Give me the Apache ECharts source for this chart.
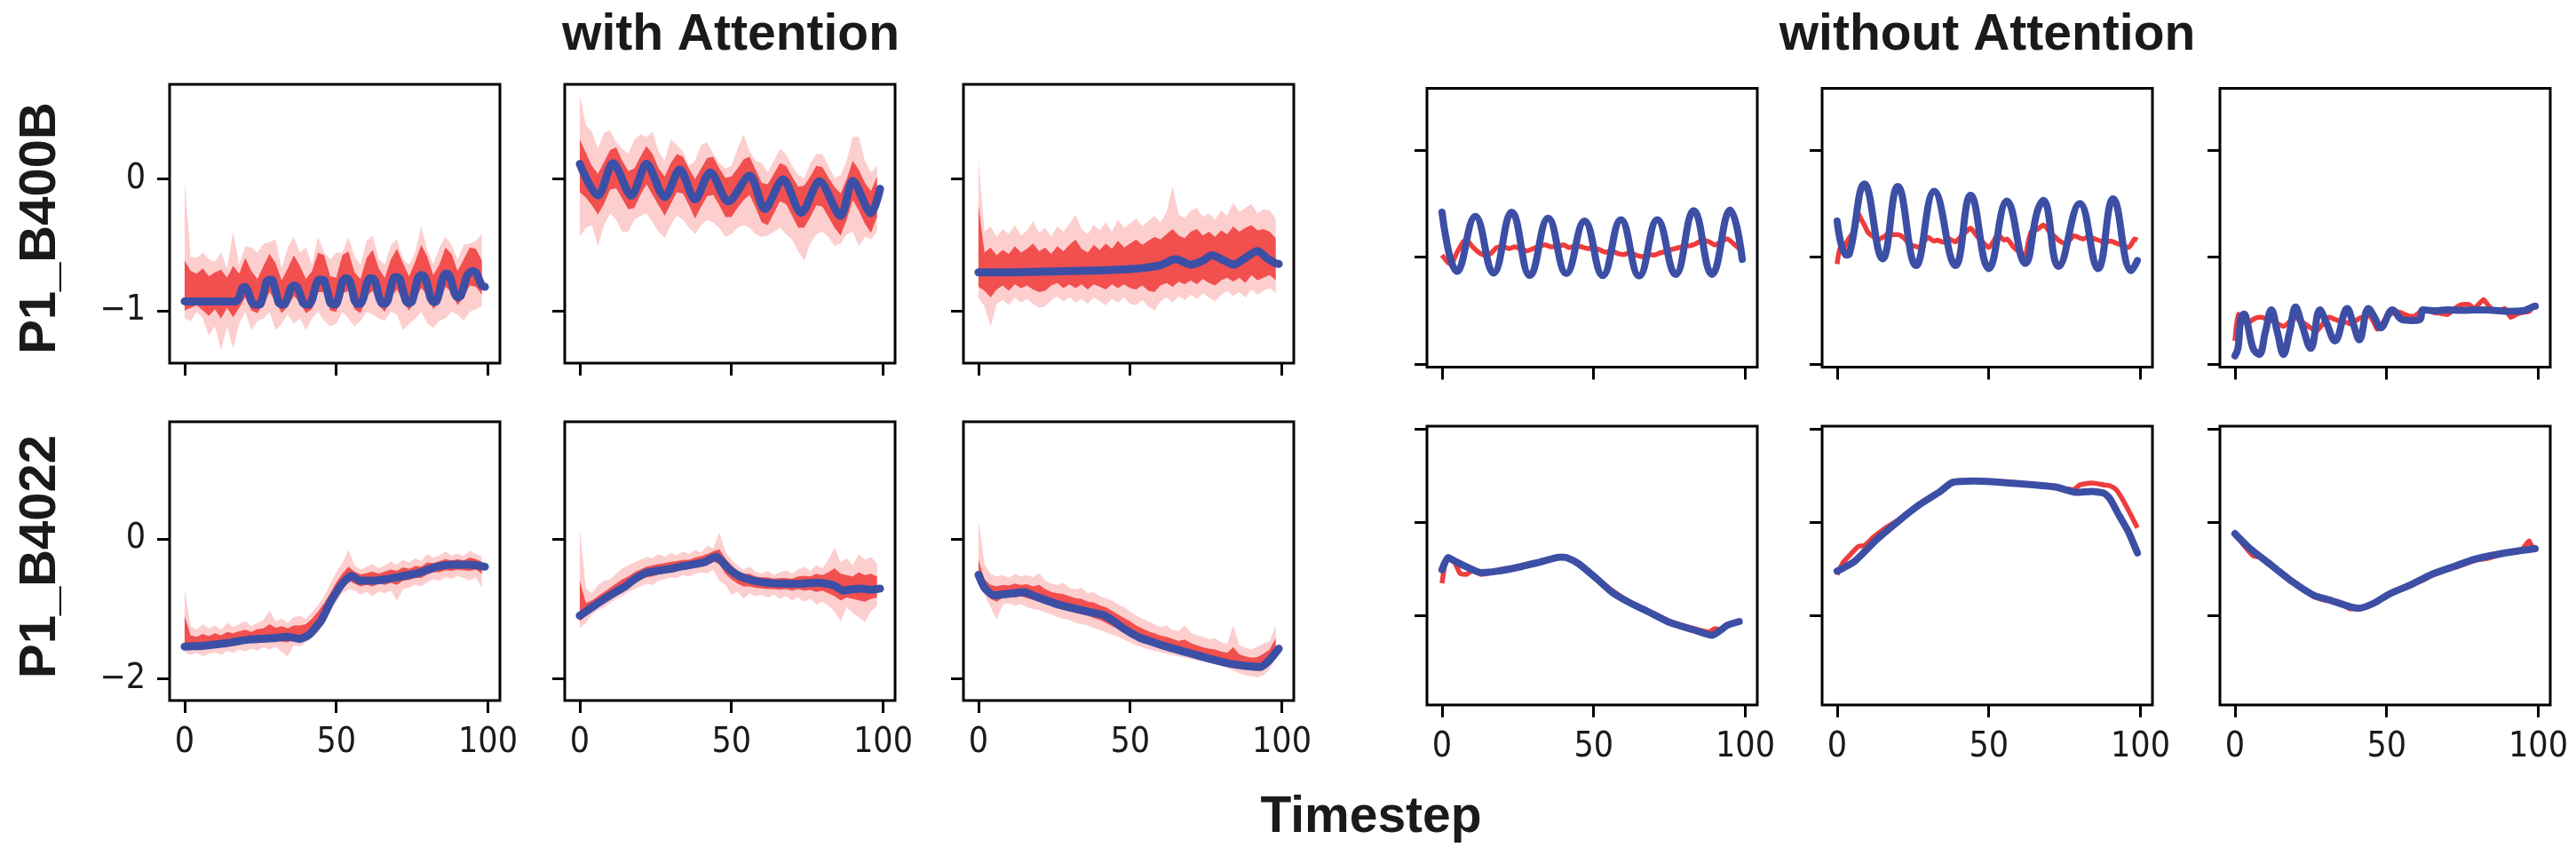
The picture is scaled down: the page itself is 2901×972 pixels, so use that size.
<!DOCTYPE html>
<html><head><meta charset="utf-8">
<script src="https://cdn.jsdelivr.net/npm/echarts@6/dist/echarts.min.js"></script>
<style>html,body{margin:0;padding:0;background:#fff}#c{width:2901px;height:972px}</style>
</head><body><div id="c"></div>
<script>
// ---------- axis ticks ----------
const X_TICKS = [0, 50, 100];
const Y_TICKS_R1_LEFT = [-1, 0];
const Y_TICKS_R2_LEFT = [-2, 0];
const Y_TICKS_RIGHT = [-1, 0, 1];
const TITLES = ['with Attention', 'without Attention'];
const ROW_LABELS = ['P1_B400B', 'P1_B4022'];
const X_LABEL = 'Timestep';

// ---------- row 1, with attention ----------
const r1c1Blue = [-0.93,-0.93,-0.93,-0.93,-0.93,-0.93,-0.93,-0.93,-0.93,-0.93,
 -0.93,-0.93,-0.93,-0.93,-0.93,-0.93,-0.93,-0.93,-0.90,-0.83,
 -0.82,-0.86,-0.93,-0.955,-0.955,-0.95,-0.88,-0.78,-0.765,-0.77,
 -0.85,-0.94,-0.955,-0.95,-0.90,-0.83,-0.81,-0.82,-0.87,-0.94,
 -0.955,-0.955,-0.92,-0.83,-0.77,-0.765,-0.77,-0.85,-0.94,-0.955,
 -0.95,-0.88,-0.78,-0.755,-0.76,-0.82,-0.92,-0.95,-0.95,-0.90,
 -0.80,-0.755,-0.755,-0.79,-0.89,-0.945,-0.95,-0.92,-0.82,-0.75,
 -0.745,-0.76,-0.85,-0.93,-0.945,-0.93,-0.84,-0.75,-0.73,-0.74,
 -0.80,-0.90,-0.935,-0.93,-0.86,-0.76,-0.72,-0.725,-0.78,-0.87,
 -0.90,-0.89,-0.82,-0.74,-0.71,-0.70,-0.71,-0.76,-0.81,-0.82];
const r1c1OuterHi = [-0.02,-0.59,-0.60,-0.56,-0.61,-0.63,-0.56,-0.68,-0.40,-0.65,
 -0.51,-0.52,-0.56,-0.49,-0.48,-0.46,-0.68,-0.52,-0.44,-0.56,
 -0.52,-0.65,-0.44,-0.56,-0.61,-0.56,-0.56,-0.44,-0.59,-0.65,
 -0.47,-0.43,-0.61,-0.65,-0.50,-0.46,-0.61,-0.65,-0.56,-0.36,
 -0.54,-0.65,-0.52,-0.44,-0.50,-0.61,-0.50,-0.49,-0.47,-0.42];
const r1c1CoreHi = [-0.62,-0.70,-0.72,-0.68,-0.74,-0.71,-0.69,-0.75,-0.66,-0.72,
 -0.60,-0.70,-0.76,-0.66,-0.57,-0.64,-0.77,-0.68,-0.58,-0.66,
 -0.76,-0.70,-0.56,-0.58,-0.74,-0.75,-0.58,-0.55,-0.71,-0.76,
 -0.60,-0.54,-0.68,-0.75,-0.61,-0.53,-0.64,-0.74,-0.63,-0.50,
 -0.59,-0.73,-0.65,-0.52,-0.57,-0.70,-0.61,-0.52,-0.53,-0.62];
const r1c1CoreLo = [-1.00,-0.98,-0.96,-1.00,-1.04,-0.99,-1.06,-0.98,-1.05,-0.98,
 -0.90,-1.00,-1.02,-0.95,-0.86,-0.93,-1.02,-0.97,-0.89,-0.94,
 -1.02,-0.99,-0.86,-0.86,-1.00,-1.01,-0.87,-0.85,-0.99,-1.02,
 -0.89,-0.85,-0.96,-1.01,-0.90,-0.84,-0.93,-1.00,-0.92,-0.83,
 -0.88,-0.99,-0.93,-0.82,-0.86,-0.96,-0.90,-0.81,-0.82,-0.88];
const r1c1OuterLo = [-1.06,-1.08,-1.01,-1.06,-1.19,-1.12,-1.30,-1.12,-1.29,-1.10,
 -1.01,-1.15,-1.08,-1.06,-1.01,-1.15,-1.10,-1.03,-1.10,-1.06,
 -1.15,-1.06,-1.01,-1.08,-1.12,-1.10,-1.01,-1.06,-1.12,-1.08,
 -1.01,-1.03,-1.06,-1.08,-1.01,-1.03,-1.15,-1.10,-1.06,-1.01,
 -1.10,-1.13,-1.08,-1.06,-1.01,-1.03,-1.08,-1.01,-0.99,-0.97];

const r1c2Blue = [[0,0.115],[6,-0.126],[11,0.12],[17,-0.126],[22,0.115],[28,-0.137],[33,0.072],[38,-0.155],[43,0.05],[49,-0.17],[56,0.027],[61,-0.227],[67,-0.002],[73,-0.257],[79,-0.018],[86,-0.28],[90,-0.014],[96,-0.26],[99,-0.074]];
const r1c2OuterHi = [0.64,0.41,0.36,0.23,0.35,0.37,0.28,0.23,0.19,0.30,
 0.34,0.32,0.36,0.21,0.14,0.30,0.26,0.21,0.10,0.14,
 0.26,0.28,0.19,0.12,0.08,0.10,0.23,0.34,0.21,0.14,
 0.12,0.05,0.14,0.23,0.19,0.10,0.03,0.01,0.12,0.19,
 0.19,0.10,0.01,0.03,0.14,0.32,0.32,0.14,0.05,0.10];
const r1c2CoreHi = [0.30,0.20,0.10,0.04,0.13,0.22,0.24,0.14,0.06,0.08,
 0.17,0.25,0.19,0.08,0.02,0.12,0.19,0.17,0.08,0.00,
 0.08,0.16,0.17,0.08,0.01,0.02,0.08,0.15,0.17,0.07,
 -0.03,-0.04,0.04,0.12,0.10,0.02,-0.06,-0.05,0.02,0.10,
 0.09,0.01,-0.06,-0.11,0.00,0.14,0.07,-0.03,-0.09,0.02];
const r1c2CoreLo = [-0.10,-0.14,-0.20,-0.27,-0.19,-0.08,-0.07,-0.15,-0.23,-0.22,
 -0.12,-0.04,-0.12,-0.20,-0.28,-0.19,-0.10,-0.11,-0.20,-0.30,
 -0.21,-0.13,-0.12,-0.20,-0.29,-0.29,-0.22,-0.16,-0.12,-0.22,
 -0.33,-0.35,-0.26,-0.17,-0.19,-0.28,-0.37,-0.37,-0.29,-0.20,
 -0.21,-0.29,-0.37,-0.43,-0.31,-0.16,-0.24,-0.34,-0.41,-0.29];
const r1c2OuterLo = [-0.44,-0.37,-0.35,-0.51,-0.35,-0.26,-0.31,-0.40,-0.40,-0.31,
 -0.28,-0.26,-0.33,-0.40,-0.45,-0.35,-0.28,-0.31,-0.37,-0.42,
 -0.35,-0.31,-0.33,-0.37,-0.44,-0.42,-0.37,-0.35,-0.37,-0.42,
 -0.44,-0.43,-0.40,-0.37,-0.42,-0.46,-0.55,-0.62,-0.49,-0.42,
 -0.40,-0.44,-0.51,-0.49,-0.42,-0.40,-0.51,-0.44,-0.46,-0.40];

const r1c3Blue = [[0,-0.71],[10,-0.71],[20,-0.705],[30,-0.70],[40,-0.695],[50,-0.685],[55,-0.675],[60,-0.655],[65,-0.61],[70,-0.65],[74,-0.62],[77,-0.58],[81,-0.62],[84,-0.65],[88,-0.60],[92,-0.547],[95,-0.60],[98,-0.64],[99,-0.645]];
const r1c3OuterHi = [0.14,-0.40,-0.36,-0.44,-0.38,-0.42,-0.35,-0.43,-0.39,-0.32,
 -0.41,-0.37,-0.44,-0.36,-0.40,-0.34,-0.27,-0.38,-0.42,-0.35,
 -0.39,-0.33,-0.40,-0.31,-0.37,-0.34,-0.30,-0.36,-0.32,-0.28,
 -0.33,-0.25,-0.06,-0.27,-0.30,-0.24,-0.22,-0.29,-0.26,-0.31,
 -0.24,-0.28,-0.18,-0.25,-0.22,-0.19,-0.26,-0.23,-0.24,-0.30];
const r1c3CoreHi = [-0.20,-0.56,-0.52,-0.58,-0.54,-0.57,-0.51,-0.56,-0.53,-0.49,
 -0.55,-0.52,-0.57,-0.51,-0.55,-0.50,-0.46,-0.53,-0.56,-0.50,
 -0.54,-0.49,-0.53,-0.47,-0.52,-0.49,-0.46,-0.50,-0.47,-0.44,
 -0.46,-0.42,-0.38,-0.43,-0.45,-0.40,-0.38,-0.43,-0.40,-0.44,
 -0.39,-0.42,-0.36,-0.40,-0.37,-0.35,-0.39,-0.38,-0.40,-0.45];
const r1c3CoreLo = [-0.82,-0.85,-0.90,-0.84,-0.81,-0.85,-0.80,-0.83,-0.81,-0.84,
 -0.86,-0.85,-0.81,-0.79,-0.83,-0.80,-0.83,-0.80,-0.84,-0.80,
 -0.82,-0.84,-0.80,-0.83,-0.80,-0.83,-0.84,-0.81,-0.85,-0.86,
 -0.81,-0.79,-0.82,-0.78,-0.80,-0.77,-0.80,-0.76,-0.79,-0.81,
 -0.77,-0.75,-0.78,-0.75,-0.79,-0.73,-0.77,-0.75,-0.73,-0.77];
const r1c3OuterLo = [-0.90,-0.97,-1.12,-0.95,-0.92,-0.96,-0.90,-0.94,-0.91,-0.95,
 -0.98,-0.97,-0.92,-0.89,-0.93,-0.90,-0.94,-0.91,-0.95,-0.90,
 -0.93,-0.96,-0.91,-0.94,-0.90,-0.95,-0.96,-0.92,-0.97,-1.00,
 -0.93,-0.90,-0.94,-0.89,-0.92,-0.88,-0.91,-0.87,-0.90,-0.93,
 -0.88,-0.85,-0.89,-0.86,-0.90,-0.84,-0.88,-0.85,-0.83,-0.87];

// ---------- row 1, without attention ----------
const r1c4Blue = [[0,0.42],[5,-0.133],[11,0.38],[17,-0.147],[23,0.42],[29,-0.17],[35,0.365],[41,-0.152],[47,0.337],[53,-0.17],[59,0.35],[65,-0.174],[71,0.35],[77,-0.16],[83,0.434],[89,-0.16],[95,0.44],[99,-0.02]];
const r1c4Red = [[0,0.02],[2,-0.05],[3,-0.064],[5,0.047],[7,0.144],[8,0.163],[10,0.10],[12,0.047],[14,0.02],[16,0.033],[18,0.089],[20,0.10],[22,0.08],[24,0.097],[26,0.075],[28,0.06],[30,0.08],[32,0.10],[34,0.116],[36,0.097],[38,0.10],[40,0.116],[42,0.089],[44,0.108],[46,0.097],[48,0.08],[50,0.089],[52,0.069],[54,0.047],[56,0.061],[58,0.033],[60,0.025],[62,0.041],[64,0.02],[66,0.006],[68,0.025],[70,0.02],[72,0.041],[74,0.053],[76,0.075],[78,0.089],[80,0.102],[82,0.108],[84,0.13],[86,0.163],[88,0.144],[90,0.116],[92,0.144],[94,0.172],[96,0.13],[98,0.08],[99,0.047]];
const r1c5Blue = [[0,0.337],[3,0.02],[4,0.03],[9,0.683],[15,-0.014],[20,0.66],[26,-0.077],[32,0.614],[39,-0.077],[44,0.578],[50,-0.105],[56,0.523],[62,-0.058],[66,0.43],[68,0.53],[73,-0.086],[80,0.50],[86,-0.105],[91,0.545],[97,-0.124],[99,-0.03]];
const r1c5Red = [[0,-0.064],[1,0.10],[2,0.06],[3,0.13],[4,0.18],[5,0.22],[6,0.27],[7,0.41],[8,0.35],[9,0.30],[10,0.24],[11,0.21],[12,0.19],[13,0.16],[14,0.17],[16,0.20],[17,0.23],[18,0.21],[20,0.21],[22,0.18],[24,0.116],[26,0.10],[27,0.09],[28,0.12],[30,0.185],[32,0.15],[33,0.16],[35,0.14],[37,0.17],[39,0.144],[41,0.20],[43,0.25],[44,0.27],[46,0.20],[48,0.14],[50,0.09],[52,0.17],[53,0.21],[55,0.16],[56,0.17],[58,0.10],[60,0.05],[62,0.02],[63,0.14],[64,0.24],[66,0.26],[68,0.30],[70,0.24],[71,0.21],[73,0.16],[75,0.13],[77,0.17],[78,0.20],[80,0.18],[81,0.17],[83,0.19],[85,0.17],[87,0.15],[88,0.13],[90,0.15],[91,0.144],[93,0.12],[94,0.116],[96,0.09],[97,0.12],[98,0.17],[99,0.16]];
const r1c6Blue = [[0,-0.92],[1,-0.85],[2,-0.56],[3,-0.53],[4,-0.60],[6,-0.85],[8,-0.907],[10,-0.70],[12,-0.49],[14,-0.70],[16,-0.907],[18,-0.70],[20,-0.465],[22,-0.62],[25,-0.85],[28,-0.49],[30,-0.60],[33,-0.78],[37,-0.478],[39,-0.62],[41,-0.77],[44,-0.478],[46,-0.56],[48,-0.658],[52,-0.49],[55,-0.58],[58,-0.59],[61,-0.58],[62,-0.49],[66,-0.50],[70,-0.49],[75,-0.495],[80,-0.49],[85,-0.495],[90,-0.505],[95,-0.50],[98,-0.465],[99,-0.457]];
const r1c6Red = [[0,-0.78],[1,-0.53],[2,-0.57],[4,-0.62],[6,-0.58],[8,-0.56],[10,-0.57],[12,-0.59],[14,-0.62],[16,-0.645],[18,-0.60],[19,-0.56],[21,-0.58],[23,-0.62],[25,-0.66],[27,-0.686],[29,-0.62],[31,-0.56],[33,-0.58],[35,-0.60],[37,-0.61],[38,-0.62],[40,-0.59],[41,-0.57],[43,-0.55],[44,-0.534],[46,-0.62],[47,-0.672],[49,-0.60],[50,-0.56],[52,-0.52],[53,-0.506],[55,-0.52],[56,-0.534],[58,-0.55],[59,-0.55],[61,-0.51],[62,-0.49],[64,-0.50],[66,-0.52],[67,-0.52],[69,-0.53],[70,-0.534],[72,-0.49],[74,-0.45],[76,-0.44],[77,-0.44],[79,-0.48],[80,-0.45],[82,-0.396],[83,-0.43],[84,-0.464],[86,-0.506],[88,-0.49],[89,-0.478],[90,-0.52],[91,-0.56],[93,-0.53],[94,-0.52],[96,-0.51],[97,-0.506],[98,-0.47],[99,-0.44]];

// ---------- row 2, with attention ----------
const r2c1Blue = [[0,-1.54],[3,-1.535],[6,-1.53],[10,-1.51],[14,-1.49],[18,-1.46],[21,-1.44],[25,-1.43],[29,-1.42],[34,-1.40],[38,-1.43],[41,-1.37],[45,-1.17],[48,-0.91],[52,-0.64],[55,-0.53],[58,-0.60],[62,-0.60],[66,-0.58],[70,-0.55],[77,-0.49],[83,-0.40],[88,-0.37],[94,-0.37],[99,-0.40]];
const r2c1OuterHi = [-0.72,-1.25,-1.30,-1.22,-1.28,-1.24,-1.30,-1.20,-1.26,-1.22,
 -1.18,-1.25,-1.20,-1.16,-1.02,-1.18,-1.14,-1.20,-1.12,-1.10,
 -1.15,-1.05,-0.95,-0.82,-0.65,-0.48,-0.35,-0.16,-0.38,-0.44,
 -0.40,-0.36,-0.42,-0.38,-0.33,-0.37,-0.30,-0.34,-0.28,-0.32,
 -0.22,-0.27,-0.24,-0.18,-0.24,-0.21,-0.25,-0.17,-0.22,-0.26];
const r2c1CoreHi = [-1.10,-1.38,-1.40,-1.36,-1.39,-1.35,-1.38,-1.33,-1.35,-1.32,
 -1.30,-1.33,-1.29,-1.28,-1.22,-1.27,-1.25,-1.28,-1.24,-1.24,
 -1.22,-1.14,-1.04,-0.92,-0.78,-0.62,-0.50,-0.40,-0.47,-0.51,
 -0.49,-0.47,-0.50,-0.47,-0.44,-0.46,-0.41,-0.43,-0.39,-0.40,
 -0.34,-0.35,-0.32,-0.29,-0.31,-0.29,-0.31,-0.27,-0.29,-0.33];
const r2c1CoreLo = [-1.56,-1.57,-1.56,-1.58,-1.55,-1.54,-1.55,-1.52,-1.53,-1.50,
 -1.50,-1.48,-1.49,-1.46,-1.47,-1.45,-1.47,-1.48,-1.44,-1.45,
 -1.40,-1.33,-1.22,-1.08,-0.94,-0.80,-0.68,-0.60,-0.64,-0.68,
 -0.66,-0.68,-0.64,-0.66,-0.63,-0.66,-0.60,-0.59,-0.56,-0.56,
 -0.51,-0.48,-0.48,-0.45,-0.46,-0.44,-0.45,-0.46,-0.44,-0.50];
const r2c1OuterLo = [-1.62,-1.66,-1.63,-1.68,-1.64,-1.62,-1.66,-1.60,-1.63,-1.58,
 -1.61,-1.57,-1.60,-1.55,-1.58,-1.54,-1.62,-1.68,-1.52,-1.54,
 -1.48,-1.42,-1.34,-1.20,-1.05,-0.90,-0.78,-0.72,-0.74,-0.80,
 -0.76,-0.82,-0.75,-0.78,-0.74,-0.89,-0.72,-0.70,-0.66,-0.68,
 -0.62,-0.58,-0.60,-0.55,-0.57,-0.53,-0.56,-0.60,-0.55,-0.70];

const r2c2Blue = [[0,-1.10],[4,-0.98],[7,-0.89],[11,-0.78],[15,-0.68],[18,-0.58],[22,-0.485],[26,-0.455],[30,-0.43],[33,-0.40],[37,-0.37],[41,-0.335],[45,-0.257],[48,-0.38],[50,-0.46],[53,-0.54],[56,-0.584],[60,-0.62],[63,-0.635],[67,-0.64],[70,-0.644],[74,-0.64],[78,-0.627],[81,-0.64],[84,-0.67],[87,-0.742],[90,-0.72],[93,-0.712],[96,-0.73],[99,-0.712]];
const r2c2OuterHi = [0.14,-0.70,-0.78,-0.66,-0.60,-0.58,-0.50,-0.42,-0.38,-0.34,
 -0.30,-0.26,-0.28,-0.22,-0.26,-0.20,-0.24,-0.18,-0.22,-0.16,
 -0.20,-0.10,-0.14,0.09,-0.18,-0.30,-0.38,-0.44,-0.40,-0.47,
 -0.50,-0.46,-0.52,-0.48,-0.45,-0.50,-0.44,-0.40,-0.46,-0.38,
 -0.42,-0.30,-0.12,-0.34,-0.28,-0.38,-0.22,-0.30,-0.26,-0.36];
const r2c2CoreHi = [-0.60,-0.92,-0.88,-0.82,-0.76,-0.70,-0.64,-0.58,-0.54,-0.48,
 -0.44,-0.40,-0.38,-0.36,-0.35,-0.33,-0.32,-0.30,-0.30,-0.27,
 -0.25,-0.22,-0.18,-0.15,-0.28,-0.38,-0.46,-0.50,-0.50,-0.54,
 -0.55,-0.55,-0.57,-0.56,-0.56,-0.57,-0.54,-0.53,-0.54,-0.50,
 -0.52,-0.48,-0.42,-0.50,-0.52,-0.54,-0.48,-0.52,-0.50,-0.54];
const r2c2CoreLo = [-1.18,-1.10,-1.02,-0.96,-0.90,-0.84,-0.78,-0.72,-0.67,-0.62,
 -0.58,-0.55,-0.54,-0.51,-0.49,-0.47,-0.46,-0.44,-0.43,-0.41,
 -0.39,-0.37,-0.33,-0.36,-0.50,-0.58,-0.64,-0.68,-0.68,-0.70,
 -0.71,-0.72,-0.72,-0.73,-0.72,-0.74,-0.72,-0.74,-0.73,-0.76,
 -0.74,-0.78,-0.82,-0.88,-0.84,-0.86,-0.88,-0.90,-0.86,-0.84];
const r2c2OuterLo = [-1.28,-1.20,-1.08,-1.02,-0.98,-0.92,-0.86,-0.82,-0.76,-0.72,
 -0.68,-0.64,-0.66,-0.60,-0.58,-0.55,-0.56,-0.52,-0.54,-0.50,
 -0.48,-0.50,-0.44,-0.60,-0.66,-0.80,-0.76,-0.86,-0.78,-0.82,
 -0.80,-0.84,-0.80,-0.86,-0.82,-0.88,-0.84,-0.90,-0.86,-0.94,
 -0.90,-0.96,-1.04,-1.18,-0.98,-1.06,-1.12,-1.19,-1.04,-0.96];

const r2c3Blue = [[0,-0.515],[2,-0.70],[5,-0.807],[10,-0.785],[15,-0.764],[19,-0.828],[23,-0.89],[26,-0.936],[30,-0.98],[34,-1.02],[38,-1.06],[41,-1.086],[44,-1.16],[47,-1.257],[50,-1.34],[53,-1.41],[57,-1.47],[60,-1.515],[64,-1.565],[68,-1.614],[71,-1.65],[75,-1.70],[79,-1.745],[83,-1.785],[88,-1.815],[93,-1.83],[96,-1.73],[99,-1.57]];
const r2c3OuterHi = [0.27,-0.36,-0.50,-0.54,-0.52,-0.56,-0.50,-0.54,-0.52,-0.55,
 -0.49,-0.60,-0.64,-0.66,-0.63,-0.70,-0.72,-0.70,-0.78,-0.76,
 -0.82,-0.85,-0.88,-0.94,-0.98,-1.04,-1.10,-1.14,-1.18,-1.22,
 -1.26,-1.24,-1.30,-1.32,-1.24,-1.34,-1.38,-1.40,-1.44,-1.42,
 -1.48,-1.50,-1.24,-1.52,-1.56,-1.58,-1.54,-1.50,-1.46,-1.24];
const r2c3CoreHi = [-0.30,-0.58,-0.66,-0.68,-0.66,-0.67,-0.64,-0.66,-0.65,-0.68,
 -0.66,-0.72,-0.76,-0.78,-0.79,-0.82,-0.85,-0.86,-0.90,-0.91,
 -0.95,-0.98,-1.03,-1.08,-1.13,-1.18,-1.24,-1.28,-1.32,-1.35,
 -1.38,-1.40,-1.43,-1.46,-1.44,-1.49,-1.52,-1.55,-1.57,-1.58,
 -1.61,-1.63,-1.55,-1.65,-1.68,-1.70,-1.69,-1.64,-1.58,-1.42];
const r2c3CoreLo = [-0.52,-0.76,-0.86,-0.90,-0.84,-0.83,-0.84,-0.82,-0.85,-0.87,
 -0.90,-0.93,-0.96,-0.99,-1.01,-1.03,-1.06,-1.08,-1.10,-1.13,
 -1.16,-1.20,-1.25,-1.29,-1.33,-1.38,-1.42,-1.46,-1.49,-1.52,
 -1.55,-1.57,-1.59,-1.61,-1.63,-1.65,-1.67,-1.69,-1.71,-1.73,
 -1.75,-1.77,-1.79,-1.81,-1.83,-1.85,-1.86,-1.83,-1.76,-1.60];
const r2c3OuterLo = [-0.30,-0.80,-0.98,-1.15,-0.94,-0.92,-0.96,-0.93,-0.98,-1.00,
 -1.02,-1.05,-1.08,-1.12,-1.14,-1.16,-1.20,-1.22,-1.24,-1.28,
 -1.30,-1.34,-1.37,-1.40,-1.44,-1.48,-1.52,-1.55,-1.58,-1.60,
 -1.62,-1.64,-1.66,-1.68,-1.70,-1.72,-1.74,-1.75,-1.77,-1.79,
 -1.80,-1.84,-1.88,-1.92,-1.95,-1.96,-1.98,-1.95,-1.86,-1.70];

// ---------- row 2, without attention ----------
const r2c4Blue = [[0,-0.51],[2,-0.38],[4,-0.413],[8,-0.477],[13,-0.54],[18,-0.526],[25,-0.484],[32,-0.43],[39,-0.374],[41,-0.38],[45,-0.445],[51,-0.606],[56,-0.75],[62,-0.865],[68,-0.96],[75,-1.074],[83,-1.155],[89,-1.213],[92,-1.155],[94,-1.106],[98,-1.065]];
const r2c4Red = [[0,-0.655],[1,-0.45],[2,-0.37],[4,-0.42],[6,-0.55],[8,-0.56],[10,-0.52],[13,-0.56],[18,-0.53],[22,-0.50],[25,-0.48],[30,-0.45],[35,-0.41],[39,-0.37],[42,-0.39],[45,-0.45],[51,-0.60],[56,-0.73],[62,-0.86],[68,-0.95],[75,-1.06],[83,-1.14],[88,-1.18],[90,-1.14],[92,-1.16],[94,-1.10],[98,-1.06]];
const r2c5Blue = [[0,-0.526],[6,-0.413],[13,-0.187],[20,0.006],[27,0.184],[34,0.33],[38,0.426],[45,0.442],[52,0.432],[61,0.41],[72,0.377],[79,0.32],[84,0.33],[88,0.31],[90,0.25],[93,0.07],[96,-0.10],[99,-0.33]];
const r2c5Red = [[0,-0.56],[2,-0.43],[4,-0.36],[7,-0.26],[9,-0.25],[12,-0.16],[16,-0.06],[20,0.02],[27,0.18],[34,0.34],[38,0.43],[45,0.45],[52,0.44],[58,0.43],[61,0.40],[66,0.40],[72,0.37],[78,0.35],[80,0.40],[84,0.42],[88,0.40],[90,0.39],[92,0.35],[94,0.25],[96,0.13],[99,-0.06]];
const r2c6Blue = [[0,-0.123],[5,-0.284],[12,-0.461],[19,-0.639],[26,-0.784],[31,-0.832],[37,-0.897],[41,-0.923],[46,-0.865],[51,-0.768],[58,-0.671],[65,-0.558],[72,-0.477],[79,-0.397],[86,-0.348],[93,-0.31],[99,-0.284]];
const r2c6Red = [[0,-0.12],[3,-0.25],[6,-0.36],[9,-0.38],[12,-0.47],[16,-0.55],[19,-0.64],[23,-0.72],[26,-0.80],[30,-0.84],[35,-0.87],[38,-0.93],[41,-0.93],[44,-0.89],[47,-0.85],[51,-0.77],[55,-0.72],[58,-0.67],[62,-0.62],[65,-0.57],[70,-0.51],[74,-0.47],[79,-0.41],[83,-0.39],[86,-0.36],[90,-0.33],[93,-0.32],[95,-0.28],[97,-0.20],[98,-0.27],[99,-0.26]];

// ---------- layout / style ----------
const X_MIN = -4.95, X_MAX = 103.95;
const PANEL_LEFT = [191, 636, 1085, 1607, 2052, 2500];
const PANEL_TOP = [[95, 95, 95, 99.5, 99.5, 99.5], [475, 475, 475, 480, 480, 480]];
const PANEL_W = 372, PANEL_H = 314;
const Y_RANGE = [[[-1.40, 0.72], [-1.025, 1.575]], [[-2.31, 1.67], [-1.96, 1.03]]];
const BLUE = '#3c4fa5', RED = '#ee2b2b';
const OUTER_FILL = 'rgba(242,50,50,0.24)', CORE_FILL = 'rgba(238,30,30,0.72)';
const TICK_FONT = '"DejaVu Sans Condensed", "DejaVu Sans", sans-serif';
const TITLE_FONT = '"Liberation Sans", Arial, sans-serif';

const tEven = Array.from({length: 50}, (_, i) => i * 2);
const withPanels = [
  {blue: r1c1Blue.map((v, i) => [i, v]), bands: [r1c1OuterLo, r1c1OuterHi, r1c1CoreLo, r1c1CoreHi], smooth: 0.2},
  {blue: r1c2Blue, bands: [r1c2OuterLo, r1c2OuterHi, r1c2CoreLo, r1c2CoreHi], smooth: 0.3},
  {blue: r1c3Blue, bands: [r1c3OuterLo, r1c3OuterHi, r1c3CoreLo, r1c3CoreHi], smooth: 0.3},
  {blue: r2c1Blue, bands: [r2c1OuterLo, r2c1OuterHi, r2c1CoreLo, r2c1CoreHi], smooth: 0.2},
  {blue: r2c2Blue, bands: [r2c2OuterLo, r2c2OuterHi, r2c2CoreLo, r2c2CoreHi], smooth: 0.2},
  {blue: r2c3Blue, bands: [r2c3OuterLo, r2c3OuterHi, r2c3CoreLo, r2c3CoreHi], smooth: 0.2}
];
const withoutPanels = [
  {blue: r1c4Blue, red: r1c4Red, smooth: 0.45},
  {blue: r1c5Blue, red: r1c5Red, smooth: 0.45},
  {blue: r1c6Blue, red: r1c6Red, smooth: 0.4},
  {blue: r2c4Blue, red: r2c4Red, smooth: 0.2},
  {blue: r2c5Blue, red: r2c5Red, smooth: 0.2},
  {blue: r2c6Blue, red: r2c6Red, smooth: 0.2}
];

const grids = [], xAxes = [], yAxes = [], series = [];
const minus = v => (v < 0 ? '\u2212' + Math.abs(v) : String(v));

// band polygon (lo..hi) placed through the axis scales with api.coord
function bandSeries(idx, lo, hi, fill, z) {
  return {
    type: 'custom', xAxisIndex: idx, yAxisIndex: idx, z, silent: true,
    data: tEven.map((t, i) => [t, lo[i], hi[i]]),
    encode: {x: 0, y: [1, 2]},
    renderItem: (params, api) => {
      if (params.dataIndex !== 0) return null;
      const top = tEven.map((t, i) => api.coord([t, hi[i]]));
      const bottom = tEven.map((t, i) => api.coord([t, lo[i]])).reverse();
      return {type: 'polygon', shape: {points: top.concat(bottom)}, style: {fill, stroke: null}};
    }
  };
}

for (let r = 0; r < 2; r++) {
  for (let c = 0; c < 6; c++) {
    const idx = r * 6 + c;
    const right = c >= 3;
    grids.push({left: PANEL_LEFT[c], top: PANEL_TOP[r][c], width: PANEL_W, height: PANEL_H,
      show: true, borderColor: '#000', borderWidth: 3, backgroundColor: 'rgba(0,0,0,0)',
      outerBoundsMode: 'none', containLabel: false});
    xAxes.push({gridIndex: idx, type: 'value', min: X_MIN, max: X_MAX, position: 'bottom',
      axisLine: {show: false, onZero: false}, splitLine: {show: false},
      axisTick: {show: true, length: 14, customValues: X_TICKS, lineStyle: {color: '#000', width: 3}},
      axisLabel: {show: r === 1, customValues: X_TICKS, margin: 28, fontSize: 39,
        fontFamily: TICK_FONT, color: '#1a1a1a'}});
    const yr = Y_RANGE[r][right ? 1 : 0];
    const yt = right ? Y_TICKS_RIGHT : (r === 0 ? Y_TICKS_R1_LEFT : Y_TICKS_R2_LEFT);
    yAxes.push({gridIndex: idx, type: 'value', min: yr[0], max: yr[1], position: 'left',
      axisLine: {show: false, onZero: false}, splitLine: {show: false},
      axisTick: {show: true, length: 14, customValues: yt, lineStyle: {color: '#000', width: 3}},
      axisLabel: {show: c === 0, customValues: yt, margin: 27, fontSize: 39,
        fontFamily: TICK_FONT, color: '#1a1a1a', formatter: minus}});

    if (!right) {
      const p = withPanels[r * 3 + c];
      const [oLo, oHi, cLo, cHi] = p.bands;
      series.push(bandSeries(idx, oLo, oHi, OUTER_FILL, 1));
      series.push(bandSeries(idx, cLo, cHi, CORE_FILL, 2));
      series.push({type: 'line', xAxisIndex: idx, yAxisIndex: idx, data: p.blue, symbol: 'none',
        smooth: p.smooth, z: 3, silent: true,
        lineStyle: {color: BLUE, width: 9, cap: 'round', join: 'round'}});
    } else {
      const p = withoutPanels[r * 3 + (c - 3)];
      series.push({type: 'line', xAxisIndex: idx, yAxisIndex: idx, data: p.red, symbol: 'none',
        smooth: 0.2, z: 2, silent: true,
        lineStyle: {color: RED, width: 5.5, opacity: 0.92, join: 'round'}});
      series.push({type: 'line', xAxisIndex: idx, yAxisIndex: idx, data: p.blue, symbol: 'none',
        smooth: p.smooth, z: 3, silent: true,
        lineStyle: {color: BLUE, width: 8, cap: 'round', join: 'round'}});
    }
  }
}

const textStyle = (text, size) => ({text, fontSize: size, fontWeight: 'bold', fontFamily: TITLE_FONT,
  fill: '#1a1a1a', align: 'center', verticalAlign: 'middle'});
const graphic = [
  {type: 'text', x: 823, y: 40, style: textStyle(TITLES[0], 57)},
  {type: 'text', x: 2238, y: 40, style: textStyle(TITLES[1], 57)},
  {type: 'text', x: 1544, y: 921, style: textStyle(X_LABEL, 57)},
  {type: 'text', x: 46, y: 257, rotation: Math.PI / 2, style: textStyle(ROW_LABELS[0], 58)},
  {type: 'text', x: 46, y: 627, rotation: Math.PI / 2, style: textStyle(ROW_LABELS[1], 58)}
];

const chart = echarts.init(document.getElementById('c'), null, {renderer: 'canvas', width: 2901, height: 972});
chart.setOption({animation: false, backgroundColor: '#fff', grid: grids, xAxis: xAxes, yAxis: yAxes,
  series, graphic, tooltip: {show: false}});
</script></body></html>
